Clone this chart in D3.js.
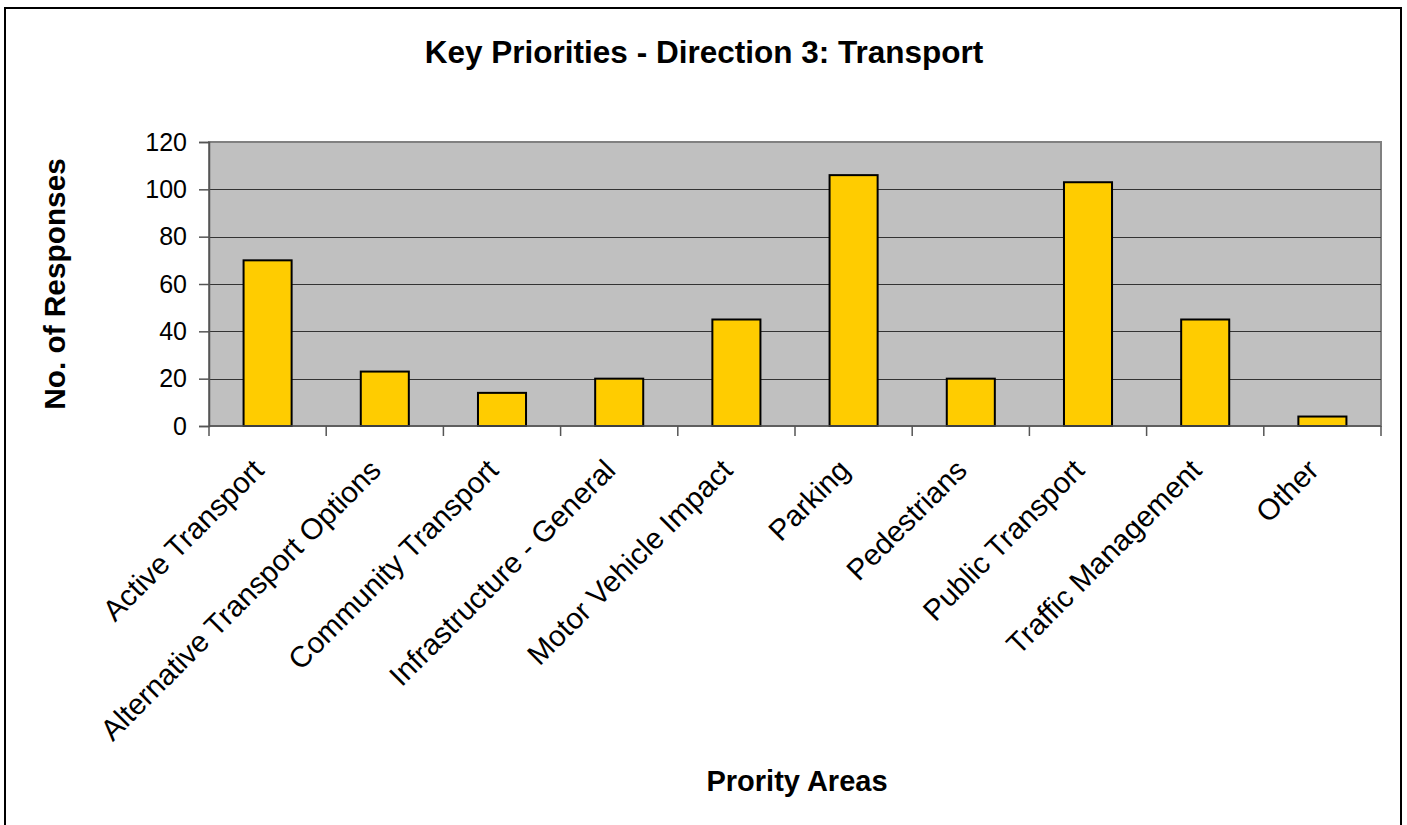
<!DOCTYPE html>
<html>
<head>
<meta charset="utf-8">
<script src="https://cdn.jsdelivr.net/npm/d3@7"></script>
<style>
  html, body { margin: 0; padding: 0; background: #ffffff; }
  svg { display: block; }
  text { font-family: Arial, "Liberation Sans", sans-serif; fill: #000; }
</style>
</head>
<body>
<svg id="chart" width="1407" height="825"></svg>
<script>
const categories = [
  "Active Transport",
  "Alternative Transport Options",
  "Community Transport",
  "Infrastructure - General",
  "Motor Vehicle Impact",
  "Parking",
  "Pedestrians",
  "Public Transport",
  "Traffic Management",
  "Other"
];
const responses = [70, 23, 14, 20, 45, 106, 20, 103, 45, 4];
const yTicks = [0, 20, 40, 60, 80, 100, 120];
const titleText = "Key Priorities - Direction 3: Transport";
const xTitleText = "Prority Areas";
const yTitleText = "No. of Responses";

const svg = d3.select("#chart");
const W = 1407, H = 825;
const plot = { left: 209, right: 1381, top: 142, bottom: 426 };

// outer chart border
svg.append("rect")
  .attr("x", 5).attr("y", 8)
  .attr("width", 1396).attr("height", H + 20)
  .attr("fill", "#fff").attr("stroke", "#000").attr("stroke-width", 2);

const x = d3.scaleBand()
  .domain(categories)
  .range([plot.left, plot.right])
  .paddingInner(0.59)
  .paddingOuter(0.295);

const y = d3.scaleLinear()
  .domain([0, 120])
  .range([plot.bottom, plot.top]);

// plot background
svg.append("rect")
  .attr("x", plot.left).attr("y", plot.top)
  .attr("width", plot.right - plot.left)
  .attr("height", plot.bottom - plot.top)
  .attr("fill", "#c0c0c0")
  .attr("stroke", "#808080").attr("stroke-width", 2);

// gridlines
svg.append("g")
  .selectAll("line")
  .data(yTicks.filter(d => d > 0 && d < 120))
  .join("line")
  .attr("x1", plot.left).attr("x2", plot.right)
  .attr("y1", d => Math.round(y(d)) + 0.5).attr("y2", d => Math.round(y(d)) + 0.5)
  .attr("stroke", "#333").attr("stroke-width", 1);

// bars
svg.append("g")
  .selectAll("rect")
  .data(categories.map((c, i) => ({ c, v: responses[i] })))
  .join("rect")
  .attr("x", d => x(d.c))
  .attr("y", d => y(d.v))
  .attr("width", x.bandwidth())
  .attr("height", d => y(0) - y(d.v))
  .attr("fill", "#ffcc00")
  .attr("stroke", "#000").attr("stroke-width", 2);

// y axis
const yAxis = d3.axisLeft(y).tickValues(yTicks).tickSize(10).tickPadding(12);
const gy = svg.append("g")
  .attr("transform", `translate(${plot.left},0)`)
  .call(yAxis);
gy.select(".domain").attr("stroke", "#555").attr("stroke-width", 1.5);
gy.selectAll(".tick line").attr("stroke", "#555").attr("stroke-width", 1.5);
gy.selectAll(".tick text")
  .attr("font-size", 25)
  .attr("font-family", "Arial, 'Liberation Sans', sans-serif")
  .attr("fill", "#000");

// x axis: ticks at category boundaries
const boundaries = d3.range(categories.length + 1).map(i => plot.left + i * (plot.right - plot.left) / categories.length);
const gx = svg.append("g");
gx.append("line")
  .attr("x1", plot.left).attr("x2", plot.right)
  .attr("y1", plot.bottom).attr("y2", plot.bottom)
  .attr("stroke", "#555").attr("stroke-width", 1.5);
gx.selectAll("line.tk")
  .data(boundaries)
  .join("line")
  .attr("class", "tk")
  .attr("x1", d => d).attr("x2", d => d)
  .attr("y1", plot.bottom).attr("y2", plot.bottom + 10)
  .attr("stroke", "#555").attr("stroke-width", 1.5);

// x labels
gx.selectAll("text.lbl")
  .data(categories)
  .join("text")
  .attr("class", "lbl")
  .attr("text-anchor", "end")
  .attr("font-size", 29.5)
  .attr("transform", d => `translate(${x(d) + x.bandwidth() / 2 - 2},472) rotate(-45)`)
  .text(d => d);

// title
svg.append("text")
  .attr("x", 704).attr("y", 63)
  .attr("text-anchor", "middle")
  .attr("font-size", 31.5).attr("font-weight", "bold")
  .text(titleText);

// x axis title
svg.append("text")
  .attr("x", (plot.left + plot.right) / 2 + 2).attr("y", 791)
  .attr("text-anchor", "middle")
  .attr("font-size", 29).attr("font-weight", "bold")
  .text(xTitleText);

// y axis title
svg.append("text")
  .attr("transform", `translate(65,${(plot.top + plot.bottom) / 2}) rotate(-90)`)
  .attr("text-anchor", "middle")
  .attr("font-size", 29.8).attr("font-weight", "bold")
  .text(yTitleText);
</script>
</body>
</html>
